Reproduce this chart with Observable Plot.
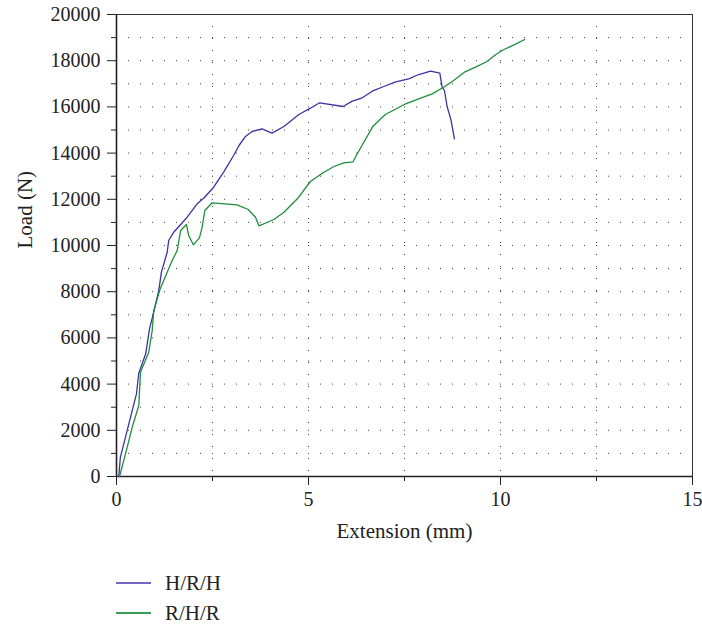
<!DOCTYPE html>
<html><head><meta charset="utf-8">
<script src="https://cdn.jsdelivr.net/npm/d3@7"></script>
<script src="https://cdn.jsdelivr.net/npm/@observablehq/plot@0.6"></script>
<style>
body{margin:0;background:#fff;font-family:"Liberation Serif",serif;}
#chart svg{display:block}
.legend{margin-left:116px;margin-top:8px;font-size:21px;color:#222;font-family:"Liberation Serif",serif}
.legend .row{display:flex;align-items:center;height:30px}
.legend .sw{width:35px;height:0;border-top:2px solid;margin-right:14px}
</style></head><body>
<div id="chart"></div>
<div class="legend" id="legend"></div>
<script>
const seriesNames = ["H/R/H", "R/H/R"];
const seriesColors = ["#3b33a0", "#1e8e3e"];
const legendColors = ["#7068c4", "#3a9a58"];

const hrhExt  = [0.06, 0.1, 0.52, 0.58, 0.76, 0.86, 0.99, 1.1, 1.17, 1.32, 1.36, 1.49, 1.84, 2.1, 2.27, 2.53, 2.79, 3.05, 3.19, 3.36, 3.53, 3.79, 4.05, 4.36, 4.75, 5.05, 5.29, 5.9, 6.14, 6.4, 6.66, 6.96, 7.27, 7.61, 7.87, 8.18, 8.42, 8.48, 8.54, 8.61, 8.71, 8.8];
const hrhLoad = [0, 830, 3580, 4470, 5310, 6390, 7260, 8050, 8845, 9710, 10215, 10576, 11225, 11805, 12048, 12524, 13173, 13896, 14329, 14719, 14935, 15052, 14862, 15152, 15671, 15944, 16178, 16018, 16248, 16393, 16680, 16883, 17086, 17216, 17402, 17546, 17460, 16853, 16710, 16018, 15441, 14619];

const rhrExt  = [0.08, 0.28, 0.41, 0.58, 0.625, 0.84, 0.93, 0.97, 1.06, 1.13, 1.32, 1.45, 1.58, 1.67, 1.82, 1.88, 2.0, 2.16, 2.23, 2.3, 2.49, 3.14, 3.43, 3.62, 3.71, 4.1, 4.36, 4.71, 5.05, 5.36, 5.66, 5.92, 6.16, 6.27, 6.68, 7.0, 7.53, 7.92, 8.22, 8.52, 8.78, 9.06, 9.35, 9.65, 9.87, 10.04, 10.35, 10.63];
const rhrLoad = [0, 1270, 2135, 3075, 4515, 5380, 6320, 7186, 7690, 8080, 8845, 9350, 9780, 10650, 10910, 10430, 10030, 10333, 10792, 11515, 11848, 11762, 11558, 11225, 10853, 11125, 11442, 12022, 12770, 13130, 13420, 13580, 13623, 13970, 15165, 15670, 16135, 16380, 16565, 16853, 17142, 17502, 17720, 17965, 18255, 18441, 18688, 18918];

const xTicksMajor = [0, 5, 10, 15];
const xTicksMinor = [2.5, 7.5, 12.5];
const xGrid = [2.5, 5, 7.5, 10, 12.5];
const yTicksMajor = [0, 2000, 4000, 6000, 8000, 10000, 12000, 14000, 16000, 18000, 20000];
const yTicksMinor = [1000, 3000, 5000, 7000, 9000, 11000, 13000, 15000, 17000, 19000];
const yGrid = [1000, 2000, 3000, 4000, 5000, 6000, 7000, 8000, 9000, 10000, 11000, 12000, 13000, 14000, 15000, 16000, 17000, 18000, 19000];

const data = [
  ...hrhExt.map((x, i) => ({series: seriesNames[0], ext: x, load: hrhLoad[i]})),
  ...rhrExt.map((x, i) => ({series: seriesNames[1], ext: x, load: rhrLoad[i]}))
];

const plot = Plot.plot({
  width: 702, height: 560,
  marginLeft: 116, marginRight: 10, marginTop: 14, marginBottom: 84,
  style: {fontFamily: "Liberation Serif, serif", fontSize: "20px", color: "#222", background: "#fff"},
  x: {domain: [0, 15]},
  y: {domain: [0, 20000]},
  color: {domain: seriesNames, range: seriesColors},
  marks: [
    Plot.ruleY(yGrid, {stroke: "#444", strokeDasharray: "1,11", strokeWidth: 1}),
    Plot.ruleX(xGrid, {stroke: "#444", strokeDasharray: "1,11", strokeWidth: 1}),
    Plot.frame({stroke: "#333", strokeWidth: 1}),
    Plot.axisY(yTicksMajor, {tickSize: 9, tickPadding: 7, tickFormat: d => String(d), label: null}),
    Plot.axisY(yTicksMinor, {tickSize: 5, tickFormat: () => "", label: null}),
    Plot.axisX(xTicksMajor, {tickSize: 9, tickPadding: 6, tickFormat: d => String(d), label: null}),
    Plot.axisX(xTicksMinor, {tickSize: 5, tickFormat: () => "", label: null}),
    Plot.ruleX([0], {stroke: "#222", strokeWidth: 1.6}),
    Plot.ruleY([0], {stroke: "#222", strokeWidth: 1.6}),
    Plot.line(data, {x: "ext", y: "load", z: "series", stroke: "series", strokeWidth: 1.3}),
    Plot.text(["Extension (mm)"], {text: d => d, frameAnchor: "bottom", dy: 61, fontSize: 21, fill: "#222"}),
    Plot.text(["Load (N)"], {text: d => d, frameAnchor: "left", dx: -91, dy: 3, rotate: -90, fontSize: 21, fill: "#222"})
  ]
});
document.getElementById("chart").appendChild(plot);

const legend = document.getElementById("legend");
seriesNames.forEach((name, i) => {
  const row = document.createElement("div");
  row.className = "row";
  const sw = document.createElement("span");
  sw.className = "sw";
  sw.style.borderTopColor = legendColors[i];
  const label = document.createElement("span");
  label.textContent = name;
  row.appendChild(sw);
  row.appendChild(label);
  legend.appendChild(row);
});
</script>
</body></html>
